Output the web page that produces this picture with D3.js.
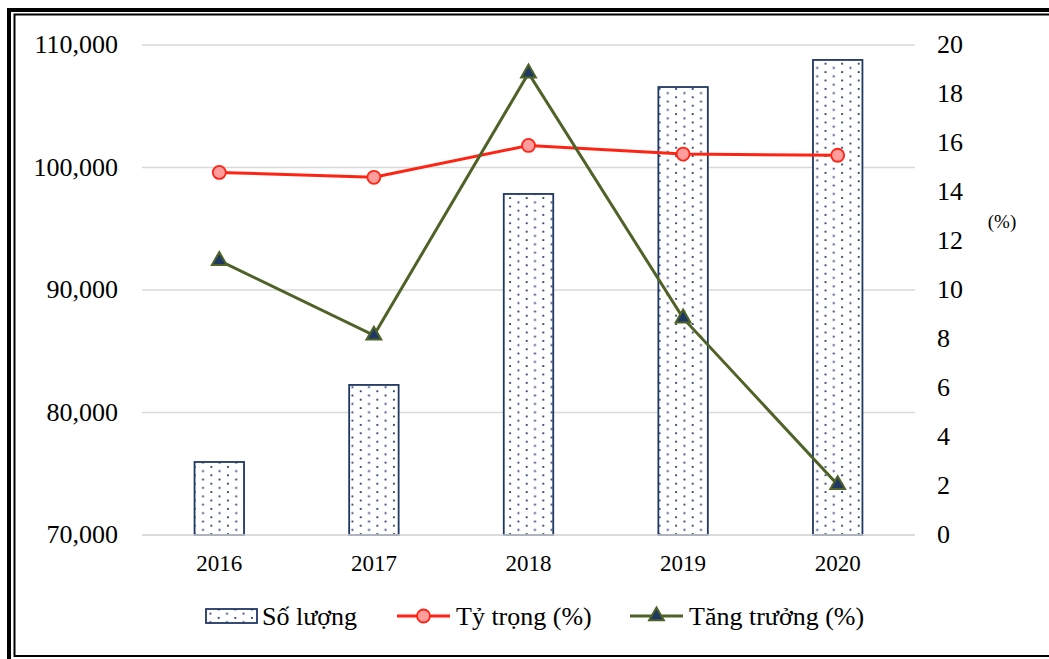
<!DOCTYPE html>
<html>
<head>
<meta charset="utf-8">
<script src="https://cdn.jsdelivr.net/npm/d3@7"></script>
<style>
  body { margin: 0; background: #fff; }
</style>
</head>
<body>
<svg id="chart" width="1049" height="659"></svg>
<script>
// data
var years = ["2016", "2017", "2018", "2019", "2020"]
var soLuong = [75960, 82250, 97840, 106570, 108780]
var tyTrong = [14.8, 14.6, 15.9, 15.55, 15.5]
var tangTruong = [11.2, 8.15, 18.85, 8.85, 2.05]
var leftTicks = [70000, 80000, 90000, 100000, 110000]
var rightTicks = [0, 2, 4, 6, 8, 10, 12, 14, 16, 18, 20]

var FONT = "'Liberation Serif'"

var svg = d3.select("#chart"),
    margin = {top: 45, right: 134, bottom: 124, left: 142},
    width = +svg.attr("width") - margin.left - margin.right,
    height = +svg.attr("height") - margin.top - margin.bottom;

// double frame (runs off the right and bottom edge, like the source)
svg.append("rect")
  .attr("x", 9).attr("y", 10)
  .attr("width", 1060).attr("height", 660)
  .attr("fill", "none").attr("stroke", "#000").attr("stroke-width", 4)
svg.append("rect")
  .attr("x", 14.5).attr("y", 14.5)
  .attr("width", 1060).attr("height", 641.5)
  .attr("fill", "none").attr("stroke", "#000").attr("stroke-width", 2)

// dotted fill for the bars
var defs = svg.append("defs")
var pat = defs.append("pattern")
  .attr("id", "dots")
  .attr("patternUnits", "userSpaceOnUse")
  .attr("width", 16.6).attr("height", 8.4)
pat.append("rect").attr("width", 16.6).attr("height", 8.4).attr("fill", "#fff")
pat.append("rect").attr("x", 2).attr("y", 1).attr("width", 1.8).attr("height", 1.8).attr("fill", "#1f3864")
pat.append("rect").attr("x", 10.3).attr("y", 5.2).attr("width", 1.8).attr("height", 1.8).attr("fill", "#1f3864")

var g = svg.append("g")
  .attr("transform", "translate(" + margin.left + "," + margin.top + ")")

var x = d3.scaleBand().domain(years).range([0, width])
var yL = d3.scaleLinear().domain([70000, 110000]).range([height, 0])
var yR = d3.scaleLinear().domain([0, 20]).range([height, 0])

var barW = x.bandwidth() * 0.32
var cx = d => x(d) + x.bandwidth() / 2

// gridlines
g.append("g")
  .selectAll("line")
  .data(leftTicks)
  .join("line")
    .attr("x1", 0).attr("x2", width)
    .attr("y1", d => yL(d)).attr("y2", d => yL(d))
    .attr("stroke", "#d9d9d9").attr("stroke-width", 1.5)

// left axis
var axL = g.append("g")
  .call(d3.axisLeft(yL).tickValues(leftTicks).tickSize(0).tickPadding(24).tickFormat(d3.format(",")))
axL.select(".domain").remove()
axL.selectAll("text")
  .style("font-family", FONT).style("font-size", "26px")
  .attr("fill", "#000").attr("dy", "0.3em")

// right axis
var axR = g.append("g")
  .attr("transform", "translate(" + width + ",0)")
  .call(d3.axisRight(yR).tickValues(rightTicks).tickSize(0).tickPadding(22))
axR.select(".domain").remove()
axR.selectAll("text")
  .style("font-family", FONT).style("font-size", "26px")
  .attr("fill", "#000").attr("dy", "0.3em")

svg.append("text")
  .attr("x", 1002).attr("y", 228)
  .attr("text-anchor", "middle")
  .style("font-family", FONT)
  .style("font-size", "19px")
  .text("(%)")

// bottom axis
var axB = g.append("g")
  .attr("transform", "translate(0," + height + ")")
  .call(d3.axisBottom(x).tickSize(0).tickPadding(20))
axB.select(".domain").remove()
axB.selectAll("text")
  .style("font-family", FONT).style("font-size", "23px")
  .attr("fill", "#000")

// bars
g.append("g")
  .selectAll("rect")
  .data(soLuong)
  .join("rect")
    .attr("x", (d, i) => cx(years[i]) - barW / 2)
    .attr("y", d => yL(d))
    .attr("width", barW)
    .attr("height", d => height - yL(d))
    .attr("fill", "url(#dots)")
    .attr("stroke", "#203864")
    .attr("stroke-width", 1.8)

g.append("line")
  .attr("x1", 0).attr("x2", width)
  .attr("y1", height).attr("y2", height)
  .attr("stroke", "#d9d9d9").attr("stroke-width", 1.5)

// Tỷ trọng line
var lineR = d3.line().x((d, i) => cx(years[i])).y(d => yR(d))
g.append("path")
  .datum(tyTrong)
  .attr("d", lineR)
  .attr("fill", "none").attr("stroke", "#ff2313").attr("stroke-width", 3)
g.append("g")
  .selectAll("circle")
  .data(tyTrong)
  .join("circle")
    .attr("cx", (d, i) => cx(years[i]))
    .attr("cy", d => yR(d))
    .attr("r", 6.5)
    .attr("fill", "#ff9d9d").attr("stroke", "#ff2313").attr("stroke-width", 1.8)

// Tăng trưởng line
var tri = d3.symbol().type(d3.symbolTriangle).size(95)
g.append("path")
  .datum(tangTruong)
  .attr("d", lineR)
  .attr("fill", "none").attr("stroke", "#4f6228").attr("stroke-width", 3)
g.append("g")
  .selectAll("path")
  .data(tangTruong)
  .join("path")
    .attr("d", tri)
    .attr("transform", (d, i) => "translate(" + cx(years[i]) + "," + yR(d) + ")")
    .attr("fill", "#1f3864").attr("stroke", "#4f6228").attr("stroke-width", 2)

// legend
var leg = svg.append("g").attr("transform", "translate(0,616)")
leg.append("rect")
  .attr("x", 206).attr("y", -7).attr("width", 51).attr("height", 14)
  .attr("fill", "url(#dots)").attr("stroke", "#203864").attr("stroke-width", 1.8)
leg.append("text").attr("x", 262).attr("y", 9).text("Số lượng")

leg.append("line").attr("x1", 397).attr("x2", 450).attr("y1", 0).attr("y2", 0)
  .attr("stroke", "#ff2313").attr("stroke-width", 3)
leg.append("circle").attr("cx", 423.5).attr("cy", 0).attr("r", 6.5)
  .attr("fill", "#ff9d9d").attr("stroke", "#ff2313").attr("stroke-width", 1.8)
leg.append("text").attr("x", 456).attr("y", 9).text("Tỷ trọng (%)")

leg.append("line").attr("x1", 630).attr("x2", 683).attr("y1", 0).attr("y2", 0)
  .attr("stroke", "#4f6228").attr("stroke-width", 3)
leg.append("path").attr("d", tri).attr("transform", "translate(656.5,0)")
  .attr("fill", "#1f3864").attr("stroke", "#4f6228").attr("stroke-width", 2)
leg.append("text").attr("x", 689).attr("y", 9).text("Tăng trưởng (%)")

leg.selectAll("text").style("font-family", FONT).style("font-size", "26px")
</script>
</body>
</html>
